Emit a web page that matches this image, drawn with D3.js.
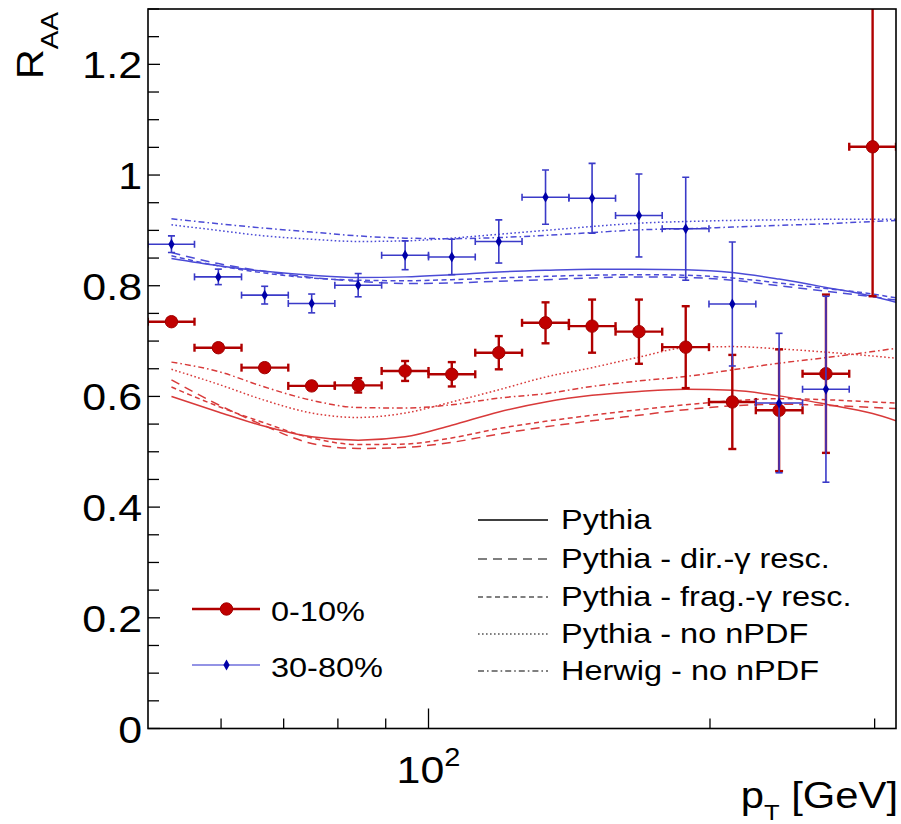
<!DOCTYPE html>
<html><head><meta charset="utf-8">
<script src="https://cdn.jsdelivr.net/npm/d3@7"></script>
<style>
body{margin:0;background:#fff}
svg{display:block}
text{font-family:"Liberation Sans",Arial,Helvetica,sans-serif;fill:#000}
</style>
</head><body>
<svg id="c" width="901" height="824"></svg>
<script>
// ---- data ----
const ptEdges   = [50.1,56.2,63.1,70.8,79.4,89.1,100,112.2,125.9,141.3,158.5,177.8,199.5,223.9,251.2,281.8,316.2];
const ptCenters = [53.1,59.6,66.8,75.0,84.1,94.4,105.9,118.9,133.4,149.6,167.9,188.4,211.3,237.1,266.1,298.5];

const raa010 = [0.735,0.688,0.652,0.619,0.620,0.646,0.640,0.679,0.733,0.727,0.717,0.689,0.590,0.575,0.641,1.051];
const err010 = [0.006,0.006,0.007,0.007,0.013,0.018,0.022,0.030,0.037,0.048,0.058,0.074,0.085,0.110,0.143,0.270];
const raa3080 = [0.875,0.816,0.783,0.768,0.801,0.855,0.852,0.880,0.960,0.958,0.927,0.903,0.767,0.588,0.613];
const err3080 = [0.015,0.014,0.016,0.017,0.021,0.026,0.032,0.039,0.049,0.063,0.075,0.093,0.112,0.126,0.168];

// theory curves sampled at bin centres plus upper edge
const curvePt = [53.1,59.6,66.8,75.0,84.1,94.4,105.9,118.9,133.4,149.6,167.9,188.4,211.3,237.1,266.1,298.5,316.2];
const redPythia = [0.600,0.572,0.546,0.527,0.521,0.527,0.548,0.572,0.590,0.602,0.609,0.613,0.611,0.601,0.586,0.569,0.556];
const redDir    = [0.630,0.585,0.547,0.515,0.506,0.508,0.517,0.532,0.545,0.556,0.566,0.576,0.583,0.586,0.584,0.580,0.578];
const redFrag   = [0.617,0.582,0.552,0.525,0.513,0.514,0.525,0.542,0.555,0.566,0.576,0.585,0.592,0.596,0.594,0.590,0.588];
const redNoPDF  = [0.649,0.622,0.593,0.570,0.562,0.570,0.590,0.612,0.635,0.652,0.671,0.688,0.690,0.686,0.680,0.673,0.669];
const redHerwig = [0.662,0.645,0.617,0.593,0.580,0.579,0.585,0.597,0.605,0.618,0.628,0.636,0.648,0.660,0.670,0.681,0.687];

const bluePythia = [0.849,0.836,0.826,0.819,0.815,0.816,0.820,0.825,0.828,0.830,0.830,0.829,0.824,0.812,0.797,0.781,0.770];
const blueDir    = [0.860,0.840,0.826,0.815,0.808,0.804,0.805,0.808,0.811,0.814,0.816,0.815,0.810,0.800,0.790,0.780,0.774];
const blueFrag   = [0.854,0.836,0.823,0.814,0.810,0.809,0.811,0.814,0.817,0.819,0.820,0.819,0.814,0.805,0.795,0.785,0.778];
const blueNoPDF  = [0.910,0.900,0.890,0.884,0.880,0.881,0.886,0.893,0.900,0.907,0.913,0.916,0.918,0.919,0.920,0.920,0.920];
const blueHerwig = [0.921,0.912,0.904,0.897,0.890,0.886,0.885,0.887,0.891,0.896,0.901,0.903,0.906,0.909,0.912,0.916,0.918];

const yMajorTicks = [0,0.2,0.4,0.6,0.8,1.0,1.2];
const yTickLabels = ["0","0.2","0.4","0.6","0.8","1","1.2"];
const xMinorTicks = [60,70,80,90,200,300];
const xMajorTicks = [100];

const modelNames = ["Pythia","Pythia - dir.-\u03B3  resc.","Pythia - frag.-\u03B3  resc.","Pythia - no nPDF","Herwig - no nPDF"];
const centNames = ["0-10%","30-80%"];

// ---- layout ----
const L=148, R=896, T=9, B=728.5;
const SX=1.16;
const redBar="#b00000", redLine="#d83a3a";
const blueData="#0000a8", blueBar="#3a3ac8", blueLine="#4b4bd6";
const dashes = [null,"9,6","5,3.5","1.6,2.4","6,3,1.6,3"];

const svg = d3.select("#c");
const x = d3.scaleLog().domain([50.12,316.2]).range([L,R]);
const y = d3.scaleLinear().domain([0,1.3]).range([B,T]);

svg.append("defs").append("clipPath").attr("id","clip")
  .append("rect").attr("x",L).attr("y",T).attr("width",R-L).attr("height",B-T);

function txt(g,xp,yp,str,size,anchor){
  return g.append("text").attr("transform",`translate(${xp},${yp}) scale(${SX},1)`)
    .attr("font-size",size).attr("text-anchor",anchor||"start").text(str);
}

const plot = svg.append("g").attr("clip-path","url(#clip)");

// theory curves
const line = d3.line().x(d=>x(d[0])).y(d=>y(d[1])).curve(d3.curveMonotoneX);
function drawCurves(sets,color){
  sets.forEach((vals,i)=>{
    plot.append("path").datum(curvePt.map((p,j)=>[p,vals[j]]))
      .attr("d",line).attr("fill","none").attr("stroke",color).attr("stroke-width",1.5)
      .attr("stroke-dasharray",dashes[i]);
  });
}
drawCurves([redPythia,redDir,redFrag,redNoPDF,redHerwig],redLine);
drawCurves([bluePythia,blueDir,blueFrag,blueNoPDF,blueHerwig],blueLine);

// data points
function drawData(vals,errs,barColor,barW,cap){
  const g = plot.append("g").attr("stroke",barColor).attr("stroke-width",barW);
  vals.forEach((v,k)=>{
    const x0=x(ptEdges[k]), x1=x(ptEdges[k+1]), xc=x(ptCenters[k]);
    const yc=y(v), ylo=y(v-errs[k]), yhi=y(v+errs[k]);
    g.append("line").attr("x1",x0).attr("x2",x1).attr("y1",yc).attr("y2",yc);
    g.append("line").attr("x1",x0).attr("x2",x0).attr("y1",yc-cap).attr("y2",yc+cap);
    g.append("line").attr("x1",x1).attr("x2",x1).attr("y1",yc-cap).attr("y2",yc+cap);
    g.append("line").attr("x1",xc).attr("x2",xc).attr("y1",ylo).attr("y2",yhi);
    g.append("line").attr("x1",xc-cap).attr("x2",xc+cap).attr("y1",ylo).attr("y2",ylo);
    g.append("line").attr("x1",xc-cap).attr("x2",xc+cap).attr("y1",yhi).attr("y2",yhi);
  });
}
drawData(raa010,err010,redBar,2.4,4);
plot.selectAll(".mr").data(raa010).enter().append("circle")
  .attr("cx",(d,k)=>x(ptCenters[k])).attr("cy",d=>y(d)).attr("r",6.2)
  .attr("fill","#c00000").attr("stroke","#a00000").attr("stroke-width",1);
drawData(raa3080,err3080,blueBar,1.6,3.5);
const diamond = d3.symbol().type(d3.symbolDiamond).size(34);
plot.selectAll(".mb").data(raa3080).enter().append("path")
  .attr("d",diamond).attr("transform",(d,k)=>`translate(${x(ptCenters[k])},${y(d)})`)
  .attr("fill",blueData);

// axes frame
const ax = svg.append("g").attr("stroke","#000").attr("stroke-width",1.6).attr("fill","none");
ax.append("rect").attr("x",L).attr("y",T).attr("width",R-L).attr("height",B-T);
const yMinor = d3.range(0,1.3001,0.05);
yMinor.forEach(v=>{
  const major = yMajorTicks.some(m=>Math.abs(m-v)<1e-6);
  ax.append("line").attr("x1",L).attr("x2",L+(major?12:11)).attr("y1",y(v)).attr("y2",y(v)).attr("stroke-width",1.3);
});
xMinorTicks.forEach(p=>ax.append("line").attr("x1",x(p)).attr("x2",x(p)).attr("y1",B).attr("y2",B-10).attr("stroke-width",1.3));
xMajorTicks.forEach(p=>ax.append("line").attr("x1",x(p)).attr("x2",x(p)).attr("y1",B).attr("y2",B-20).attr("stroke-width",1.3));

// tick labels
const lab = svg.append("g");
yMajorTicks.forEach((v,i)=>txt(lab,142,y(v)+14,yTickLabels[i],37,"end"));
xMajorTicks.forEach(p=>{
  const t = txt(lab,x(p),783,"",37,"middle");
  t.append("tspan").text("10");
  t.append("tspan").attr("font-size",25).attr("dy",-17).text("2");
});

// axis titles
const yt = lab.append("text").attr("transform",`translate(43,12) rotate(-90) scale(${SX},1)`)
  .attr("font-size",36).attr("text-anchor","end");
yt.append("tspan").text("R");
yt.append("tspan").attr("font-size",24).attr("dy",15).text("AA");

const xt = lab.append("text").attr("transform",`translate(898,808) scale(${SX},1)`)
  .attr("font-size",36).attr("text-anchor","end");
xt.append("tspan").text("p");
xt.append("tspan").attr("font-size",22).attr("dy",12).text("T");
xt.append("tspan").attr("dy",-12).text(" [GeV]");

// model legend
const lg = svg.append("g");
const legLineY = [520,559,597,634,671];
modelNames.forEach((n,i)=>{
  lg.append("line").attr("x1",478).attr("x2",548).attr("y1",legLineY[i]).attr("y2",legLineY[i])
    .attr("stroke",i===0?"#000":"#555").attr("stroke-width",1.5).attr("stroke-dasharray",dashes[i]);
  txt(lg,561,legLineY[i]+9,n,28,"start");
});

// centrality legend
const cl = svg.append("g");
cl.append("line").attr("x1",192).attr("x2",260).attr("y1",609).attr("y2",609).attr("stroke",redBar).attr("stroke-width",2.4);
cl.append("circle").attr("cx",226.5).attr("cy",609).attr("r",6.2).attr("fill","#c00000").attr("stroke","#a00000");
txt(cl,271,621,centNames[0],28,"start");
cl.append("line").attr("x1",192).attr("x2",260).attr("y1",665).attr("y2",665).attr("stroke","#6f6fdc").attr("stroke-width",1.6);
cl.append("path").attr("d",diamond).attr("transform","translate(226.5,665)").attr("fill",blueData);
txt(cl,271,677,centNames[1],28,"start");
</script>
</body></html>
